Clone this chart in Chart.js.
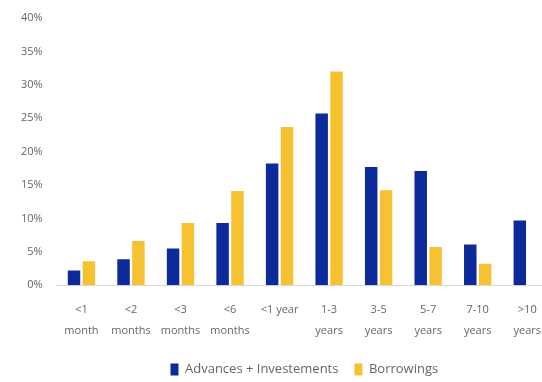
<!DOCTYPE html>
<html>
<head>
<meta charset="utf-8">
<script src="https://cdn.jsdelivr.net/npm/chart.js@4/dist/chart.umd.min.js"></script>
<style>
  html, body { margin: 0; padding: 0; background: #fff; overflow: hidden; }
  #wrap { width: 552px; height: 382px; }
</style>
</head>
<body>
<div id="wrap"><canvas id="maturity-chart"></canvas></div>
<script>
const categories = [
  ["<1", "month"], ["<2", "months"], ["<3", "months"], ["<6", "months"],
  "<1 year", ["1-3", "years"], ["3-5", "years"], ["5-7", "years"],
  ["7-10", "years"], [">10", "years"]
];
const advancesInvestments = [2.2, 3.9, 5.5, 9.3, 18.2, 25.7, 17.7, 17.1, 6.1, 9.7];
const borrowings = [3.6, 6.6, 9.3, 14.1, 23.7, 32.0, 14.2, 5.7, 3.2, 0];
const yTicks = [0, 5, 10, 15, 20, 25, 30, 35, 40];

Chart.defaults.font.family = "'Open Sans', sans-serif";
Chart.defaults.font.size = 11;
Chart.defaults.color = "#666666";

const chartData = {
  labels: categories,
  datasets: [
    {
      label: "Advances + Investements",
      backgroundColor: "#0d2a9a",
      data: advancesInvestments,
    },
    {
      label: "Borrowings",
      backgroundColor: "#f7c232",
      data: borrowings,
    },
  ],
};

const config = {
  type: "bar",
  data: chartData,
  options: {
    responsive: true,
    maintainAspectRatio: false,
    animation: false,
    datasets: {
      bar: { categoryPercentage: 0.6, barPercentage: 0.84 },
    },
    layout: { padding: { top: 18, right: 0, bottom: -4, left: 15 } },
    plugins: {
      legend: {
        position: "bottom",
        fullSize: false,
        labels: {
          boxWidth: 8,
          boxHeight: 12,
          padding: 16,
          color: "#666666",
          font: { size: 13 },
        },
      },
      tooltip: { enabled: false },
    },
    scales: {
      x: {
        grid: { display: false },
        border: { color: "#d9d9d9" },
        ticks: { maxRotation: 0, autoSkip: false, padding: 6, font: { lineHeight: 1.9 } },
      },
      y: {
        min: 0,
        max: 40,
        afterBuildTicks: (axis) => {
          axis.ticks = yTicks.map((v) => ({ value: v }));
        },
        grid: { display: false },
        border: { display: false },
        ticks: { callback: (v) => v + "%", padding: 6 },
      },
    },
  },
};

new Chart(document.getElementById("maturity-chart").getContext("2d"), config);
</script>
</body>
</html>
